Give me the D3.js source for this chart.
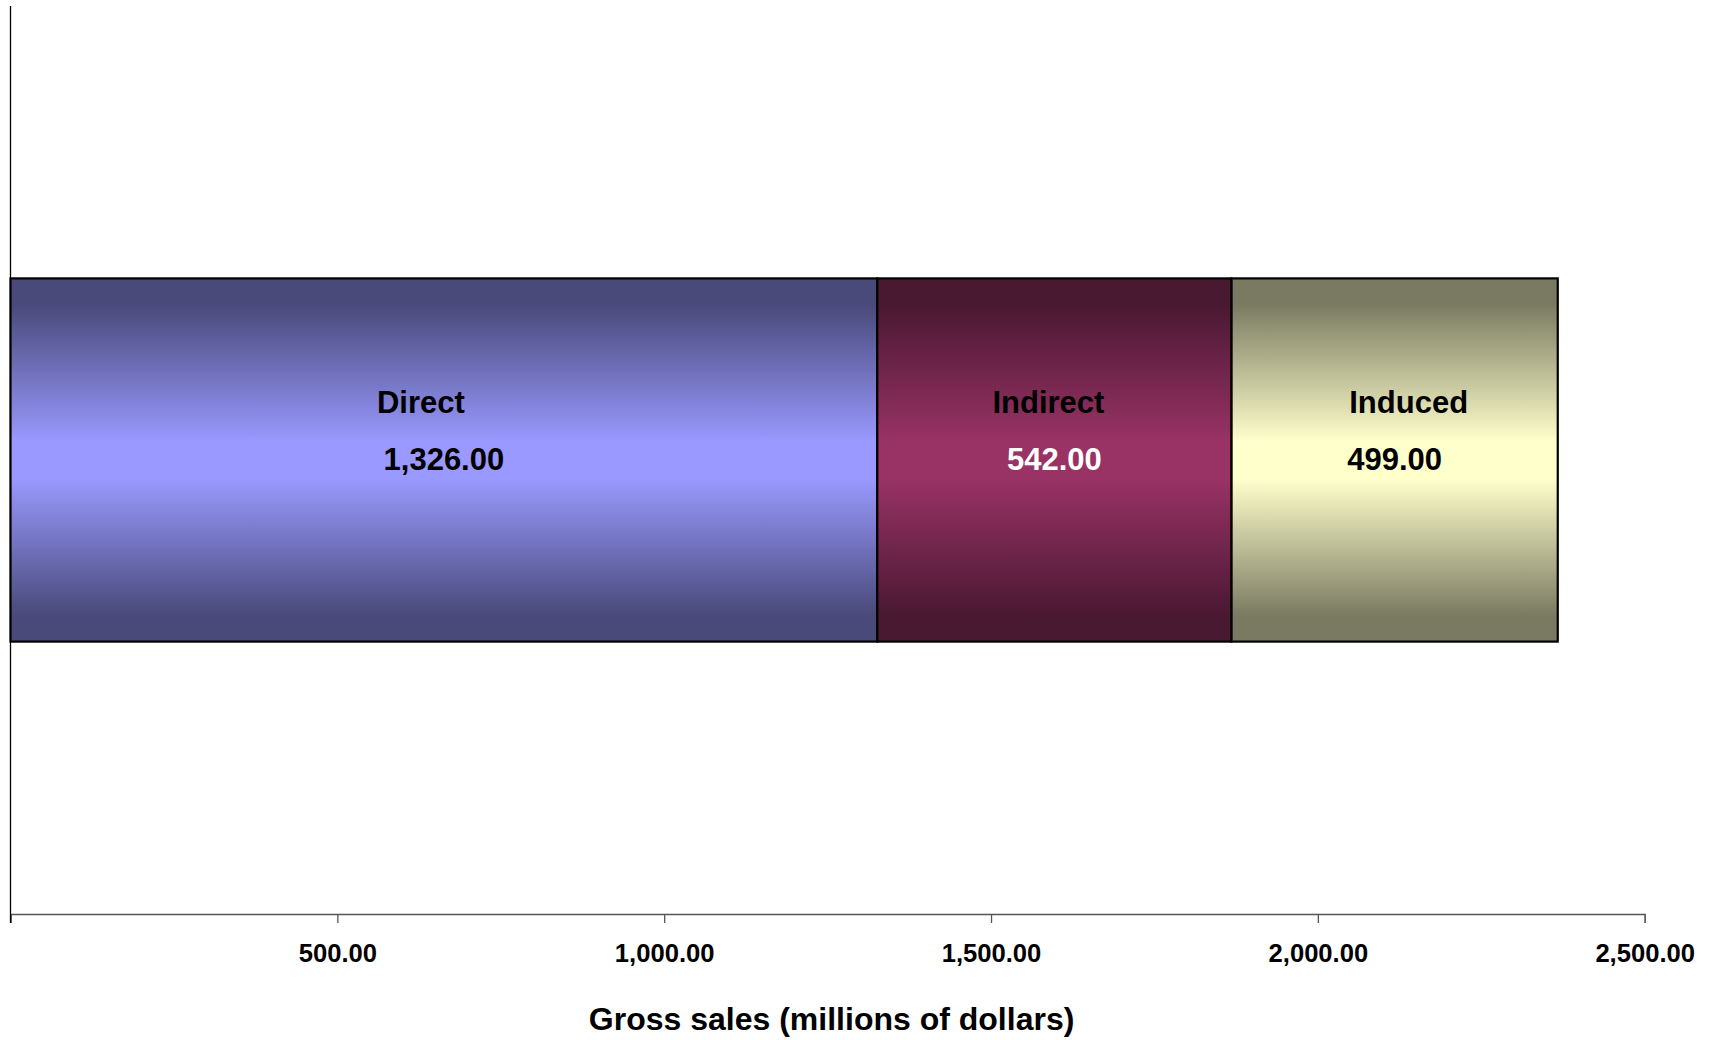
<!DOCTYPE html>
<html>
<head>
<meta charset="utf-8">
<script src="https://cdn.jsdelivr.net/npm/d3@7"></script>
<style>
  html, body { margin: 0; padding: 0; background: #fff; }
  svg { display: block; font-family: "Liberation Sans", Arial, sans-serif; }
</style>
</head>
<body>
<svg id="chart" width="1719" height="1040"></svg>
<script>
// Gross sales impact, millions of dollars
const categories = ["Direct", "Indirect", "Induced"];
const values = [1326, 542, 499];
const tickValues = [0, 500, 1000, 1500, 2000, 2500];
const axisTitle = "Gross sales (millions of dollars)";
const rowName = ["Gross sales"];

// Segment fills: centre colour of each vertical gradient, and label text colour
const centreColours = ["#9999ff", "#993366", "#ffffcc"];
const valueTextColours = ["#000", "#fff", "#000"];
// Horizontal nudge for the category name above each value
const nameNudge = [-23, -6, 14];

const svg = d3.select("#chart");
const plotLeft = 10.5, plotRight = 1644.7, plotTop = 6, axisY = 914;

const x = d3.scaleLinear().domain([0, 2500]).range([plotLeft, plotRight]);
const y = d3.scaleBand().domain(rowName).range([plotTop, axisY]).paddingInner(0).paddingOuter(0.75);

// Stack segments end-to-end
let acc = 0;
const segs = categories.map((c, i) => {
  const s = { name: c, value: values[i], x0: acc, x1: acc + values[i], i };
  acc += values[i];
  return s;
});

// Gradients: dark at top and bottom edges, light in the middle
const defs = svg.append("defs");
centreColours.forEach((col, i) => {
  const c = d3.rgb(col);
  const dark = d3.rgb(c.r * 0.48, c.g * 0.48, c.b * 0.48);
  const g = defs.append("linearGradient")
    .attr("id", "grad" + i).attr("x1", 0).attr("y1", 0).attr("x2", 0).attr("y2", 1);
  [[0, dark], [0.07, dark], [0.45, c], [0.55, c], [0.93, dark], [1, dark]].forEach(([o, cc]) => {
    g.append("stop").attr("offset", o).attr("stop-color", cc.formatHex());
  });
});

// Axes
const xAxis = d3.axisBottom(x)
  .tickValues(tickValues)
  .tickSize(9)
  .tickFormat(d => d === 0 ? "" : d3.format(",.2f")(d));

const gx = svg.append("g").attr("transform", `translate(0,${axisY})`).call(xAxis);
gx.select(".domain").attr("stroke", "#555").attr("stroke-width", 1.3);
gx.selectAll(".tick line").attr("stroke", "#555").attr("stroke-width", 1.3);
gx.selectAll(".tick text")
  .attr("y", 48).attr("dy", 0)
  .attr("font-size", 25.6).attr("font-weight", "bold").attr("fill", "#000")
  .attr("font-family", "'Liberation Sans', Arial, sans-serif");

// Vertical category axis line
svg.append("line")
  .attr("x1", x(0)).attr("x2", x(0))
  .attr("y1", plotTop).attr("y2", axisY + 9)
  .attr("stroke", "#000").attr("stroke-width", 1.3);

// Bar segments
const band = y(rowName[0]);
const bh = y.bandwidth();
svg.append("g").selectAll("rect").data(segs).join("rect")
  .attr("x", d => x(d.x0))
  .attr("y", band)
  .attr("width", d => x(d.x1) - x(d.x0))
  .attr("height", bh)
  .attr("fill", d => `url(#grad${d.i})`)
  .attr("stroke", "#000")
  .attr("stroke-width", 2.2);

// Labels: category name above value
const lab = svg.append("g").attr("font-weight", "bold").attr("font-size", 31).attr("text-anchor", "middle");
lab.selectAll("text.name").data(segs).join("text")
  .attr("class", "name")
  .attr("x", d => (x(d.x0) + x(d.x1)) / 2 + nameNudge[d.i])
  .attr("y", 413)
  .attr("fill", "#000")
  .text(d => d.name);
lab.selectAll("text.val").data(segs).join("text")
  .attr("class", "val")
  .attr("x", d => (x(d.x0) + x(d.x1)) / 2)
  .attr("y", 470)
  .attr("fill", d => valueTextColours[d.i])
  .text(d => d3.format(",.2f")(d.value));

// Axis title
svg.append("text")
  .attr("x", (x(0) + x(2500)) / 2 + 4)
  .attr("y", 1030)
  .attr("text-anchor", "middle")
  .attr("font-size", 32)
  .attr("font-weight", "bold")
  .attr("fill", "#000")
  .text(axisTitle);
</script>
</body>
</html>
